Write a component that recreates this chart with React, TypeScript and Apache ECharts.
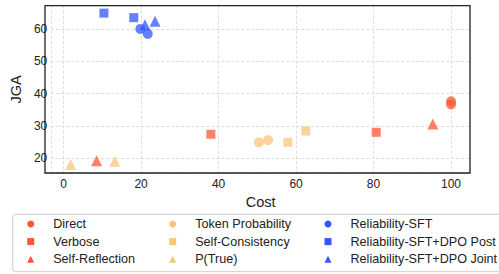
import React, { useEffect, useRef } from "react";
import * as echarts from "echarts";

const seriesNames = [
  "Direct",
  "Verbose",
  "Self-Reflection",
  "Token Probability",
  "Self-Consistency",
  "P(True)",
  "Reliability-SFT",
  "Reliability-SFT+DPO Post",
  "Reliability-SFT+DPO Joint",
];

const directCost = [100, 100];
const directJGA = [37.6, 36.6];
const verboseCost = [38.0, 80.7];
const verboseJGA = [27.4, 28.0];
const selfReflectionCost = [8.5, 95.3];
const selfReflectionJGA = [19.2, 30.6];
const tokenProbCost = [50.4, 52.8];
const tokenProbJGA = [24.9, 25.6];
const selfConsistencyCost = [57.9, 62.5];
const selfConsistencyJGA = [24.9, 28.4];
const pTrueCost = [1.8, 13.2];
const pTrueJGA = [18.0, 19.0];
const relSFTCost = [19.8, 21.7];
const relSFTJGA = [60.0, 58.5];
const dpoPostCost = [10.4, 18.1];
const dpoPostJGA = [64.9, 63.5];
const dpoJointCost = [21.0, 23.6];
const dpoJointJGA = [61.3, 62.4];

const RED = "#FF5733";
const YELLOW = "#F8C67A";
const BLUE = "#3357FF";
const FONT = "'Liberation Sans', Arial, sans-serif";

const GRID = { left: 45, top: 5.7, width: 425, height: 167.3 };

const seriesDefs = [
  { name: seriesNames[0], x: directCost, y: directJGA, color: RED, symbol: "circle", size: 10 },
  { name: seriesNames[1], x: verboseCost, y: verboseJGA, color: RED, symbol: "rect", size: 9 },
  { name: seriesNames[2], x: selfReflectionCost, y: selfReflectionJGA, color: RED, symbol: "triangle", size: 11 },
  { name: seriesNames[3], x: tokenProbCost, y: tokenProbJGA, color: YELLOW, symbol: "circle", size: 10 },
  { name: seriesNames[4], x: selfConsistencyCost, y: selfConsistencyJGA, color: YELLOW, symbol: "rect", size: 9 },
  { name: seriesNames[5], x: pTrueCost, y: pTrueJGA, color: YELLOW, symbol: "triangle", size: 11 },
  { name: seriesNames[6], x: relSFTCost, y: relSFTJGA, color: BLUE, symbol: "circle", size: 10 },
  { name: seriesNames[7], x: dpoPostCost, y: dpoPostJGA, color: BLUE, symbol: "rect", size: 9 },
  { name: seriesNames[8], x: dpoJointCost, y: dpoJointJGA, color: BLUE, symbol: "triangle", size: 11 },
];

const legendCol = (names: string[], left: number) => ({
  orient: "vertical",
  left,
  top: 217,
  itemWidth: 7,
  itemHeight: 7,
  itemGap: 3.6,
  padding: 0,
  data: names,
  itemStyle: { opacity: 1 },
  textStyle: {
    fontFamily: FONT,
    fontSize: 12.6,
    color: "#222",
    lineHeight: 14,
    padding: [0, 0, 0, 14],
  },
});

export default function App() {
  const ref = useRef<HTMLDivElement>(null);
  useEffect(() => {
    if (!ref.current) return;
    const chart = echarts.init(ref.current, undefined, { renderer: "svg" });
    chart.setOption({
      animation: false,
      backgroundColor: "#fff",
      grid: { ...GRID, show: false },
      xAxis: {
        type: "value",
        min: -3.2,
        max: 104.9,
        splitNumber: 5,
        name: "Cost",
        nameLocation: "middle",
        nameGap: 18,
        nameTextStyle: { fontFamily: FONT, fontSize: 14.5, color: "#222" },
        axisLine: { show: false },
        axisTick: { show: false },
        axisLabel: {
          fontFamily: FONT,
          fontSize: 12,
          color: "#222",
          margin: 5,
          showMinLabel: false,
          showMaxLabel: false,
        },
        splitLine: { show: true, lineStyle: { color: "#dddddd", type: [3, 2], width: 1 } },
      },
      yAxis: {
        type: "value",
        min: 15.4,
        max: 67.2,
        splitNumber: 5,
        name: "JGA",
        nameLocation: "middle",
        nameGap: 17,
        nameTextStyle: { fontFamily: FONT, fontSize: 14.5, color: "#222" },
        axisLine: { show: false },
        axisTick: { show: false },
        axisLabel: {
          fontFamily: FONT,
          fontSize: 12,
          color: "#222",
          margin: 4,
          showMinLabel: false,
          showMaxLabel: false,
        },
        splitLine: { show: true, lineStyle: { color: "#dddddd", type: [3, 2], width: 1 } },
      },
      legend: [
        legendCol(seriesNames.slice(0, 3), 27.2),
        legendCol(seriesNames.slice(3, 6), 169.2),
        legendCol(seriesNames.slice(6, 9), 324.5),
      ],
      graphic: [
        {
          type: "rect",
          z: -1,
          shape: { x: 12.7, y: 214.3, width: 500, height: 57.4, r: 3 },
          style: { fill: "#fff", stroke: "#cccccc", lineWidth: 1 },
        },
        {
          type: "rect",
          z: 100,
          silent: true,
          shape: { x: GRID.left, y: GRID.top, width: GRID.width, height: GRID.height },
          style: { fill: "none", stroke: "#222", lineWidth: 1.3 },
        },
      ],
      series: seriesDefs.map((s) => ({
        type: "scatter",
        name: s.name,
        symbol: s.symbol,
        symbolSize: s.size,
        itemStyle: { color: s.color, opacity: 0.75 },
        data: s.x.map((v, i) => [v, s.y[i]]),
      })),
    });
    return () => chart.dispose();
  }, []);
  return (
    <div
      ref={ref}
      style={{ position: "fixed", left: 0, top: 0, width: 499, height: 274 }}
    />
  );
}
